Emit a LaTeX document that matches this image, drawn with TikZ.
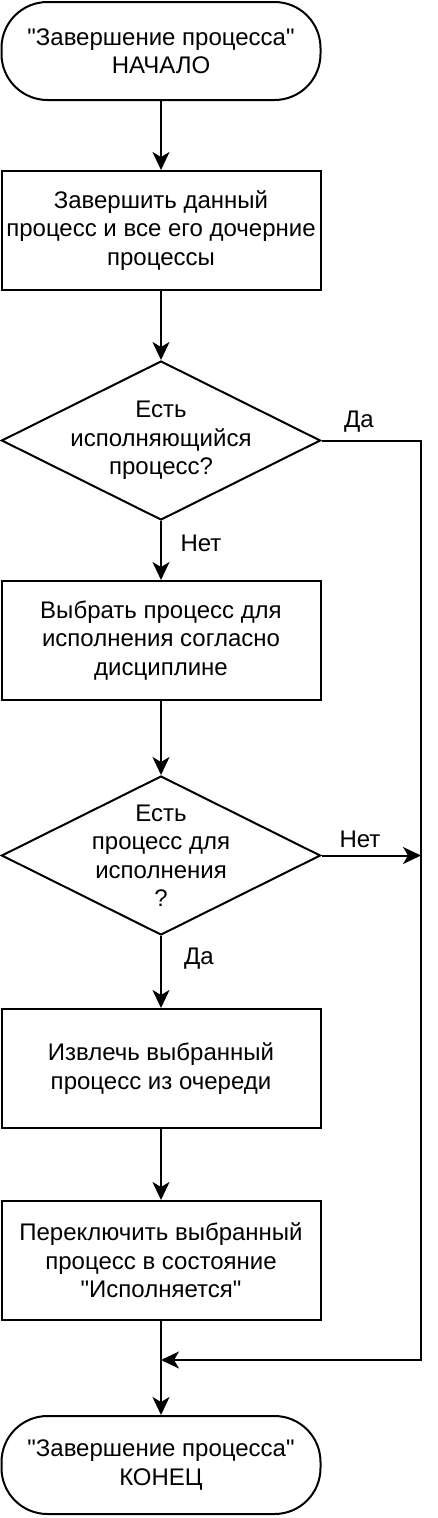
\documentclass[tikz,border=0pt]{standalone}
\usepackage{fontspec}
\newfontfamily\drawfont{Liberation Sans}
\usetikzlibrary{shapes.geometric,arrows.meta}

\tikzset{
  base/.style={draw, line width=2pt, minimum width=319pt, inner sep=0pt, align=center},
  terminal/.style={base, rectangle, rounded corners=46pt, minimum height=98pt},
  process/.style={base, rectangle, minimum height=119pt},
  decision/.style={base, diamond, minimum width=319pt, minimum height=159pt},
  arrow/.style={line width=2pt, -{Stealth[length=18pt, width=17pt, inset=5pt]}},
  line/.style={line width=2pt}
}

\begin{document}
\begin{tikzpicture}[x=1pt, y=-1pt, font=\drawfont\fontsize{24}{28.5}\selectfont]
        \useasboundingbox (0,0) rectangle (438,1518);
        \node[terminal] (start) at (161,51) {"Завершение процесса"\\НАЧАЛО};
        \node[process] (kill) at (161,230.5) {Завершить данный\\процесс и все его дочерние\\процессы};
        \node[decision] (run) at (161,440.5) {};
        \node (runtext) at (run) [align=center] {Есть\\исполняющийся\\процесс?};
        \node[process] (choose) at (161,640.5) {Выбрать процесс для\\исполнения согласно\\дисциплине};
        \node[decision] (ready) at (161,855.5) {};
        \node (readytext) at (ready) [align=center] {Есть\\процесс для\\исполнения\\?};
        \node[process] (take) at (161,1068.5) {Извлечь выбранный\\процесс из очереди};
        \node[process] (switch) at (161,1260.5) {Переключить выбранный\\процесс в состояние\\"Исполняется"};
        \node[terminal] (stop) at (161,1465) {"Завершение процесса"\\КОНЕЦ};
        \coordinate (rtop) at (421,440.5);
        \coordinate (rmid) at (421,855.5);
        \coordinate (rbot) at (421,1360);
        \coordinate (join) at (161,1360);
        \draw[arrow] (start) -- (kill);
        \draw[arrow] (kill) -- (run);
        \draw[arrow] (run) -- (choose);
        \draw[arrow] (choose) -- (ready);
        \draw[arrow] (ready) -- (take);
        \draw[arrow] (take) -- (switch);
        \draw[arrow] (switch) -- (stop);
        \draw[arrow] (run.east) -- (rtop) -- (rbot) -- (join);
        \draw[arrow] (ready.east) -- (rmid);
        \node (yes1) at (359,422) {Да};
        \node (no1) at (201,543) {Нет};
        \node (no2) at (360,839) {Нет};
        \node (yes2) at (199,959) {Да};
    \end{tikzpicture}
\end{document}
